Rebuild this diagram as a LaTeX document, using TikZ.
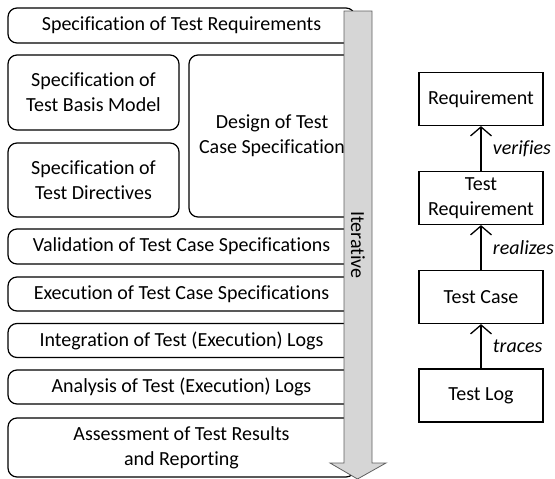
\documentclass[tikz,border=0pt]{standalone}
\usepackage{fontspec}
\setmainfont{Carlito}[Ligatures=NoCommon]
\usetikzlibrary{arrows.meta}

\tikzset{
  phase/.style={draw, rounded corners=9pt, align=center, inner sep=0pt},
  artefact/.style={draw, align=center, inner sep=0pt,
    minimum width=124pt, minimum height=53pt},
  trace/.style={-{Straight Barb[length=9pt, width=21pt, line width=1.3pt]}, line width=1.3pt},
}

\begin{document}
\begin{tikzpicture}[x=1pt, y=-1pt, line width=1.2pt,
    font=\fontsize{20}{25}\selectfont]
  \useasboundingbox (0,0) rectangle (555,479);

  % process steps on the left
  \node[phase, minimum width=347pt, minimum height=35pt] (specreq) at (181.5,25.5) {Specification of Test Requirements};
  \node[phase, minimum width=171pt, minimum height=75pt] (basis) at (93.5,92.5) {Specification of\\Test Basis Model};
  \node[phase, minimum width=171pt, minimum height=74pt] (directives) at (93.5,180) {Specification of\\Test Directives};
  \node[phase, minimum width=166pt, minimum height=162pt] (design) at (272,136) {Design of Test\\Case Specification};
  \node[phase, minimum width=347pt, minimum height=35pt] (valid) at (181.5,246.5) {Validation of Test Case Specifications};
  \node[phase, minimum width=347pt, minimum height=34pt] (exec) at (181.5,294) {Execution of Test Case Specifications};
  \node[phase, minimum width=347pt, minimum height=34pt] (integ) at (181.5,340.5) {Integration of Test (Execution) Logs};
  \node[phase, minimum width=347pt, minimum height=34pt] (analysis) at (181.5,387) {Analysis of Test (Execution) Logs};
  \node[phase, minimum width=347pt, minimum height=59pt] (assess) at (181.5,447.5) {Assessment of Test Results\\and Reporting};

  % the big arrow over the right edge
  \draw[fill=gray!32, draw=gray!75!black, line width=0.8pt]
    (344,11) -- (372,11) -- (372,463) -- (386,463) -- (357.5,479)
    -- (330,463) -- (344,463) -- cycle;
  \node[rotate=-90] (iter) at (358,245) {Iterative};

  % traceability chain on the right
  \node[artefact] (req) at (481,99) {Requirement};
  \node[artefact] (testreq) at (481,198) {Test\\Requirement};
  \node[artefact] (testcase) at (481,297) {Test Case};
  \node[artefact] (testlog) at (481,395.5) {Test Log};

  \draw[trace] (testreq) -- (req) node[midway, right=8pt] {\itshape verifies};
  \draw[trace] (testcase) -- (testreq) node[midway, right=8pt] {\itshape realizes};
  \draw[trace] (testlog) -- (testcase) node[midway, right=8pt] {\itshape traces};
\end{tikzpicture}
\end{document}
